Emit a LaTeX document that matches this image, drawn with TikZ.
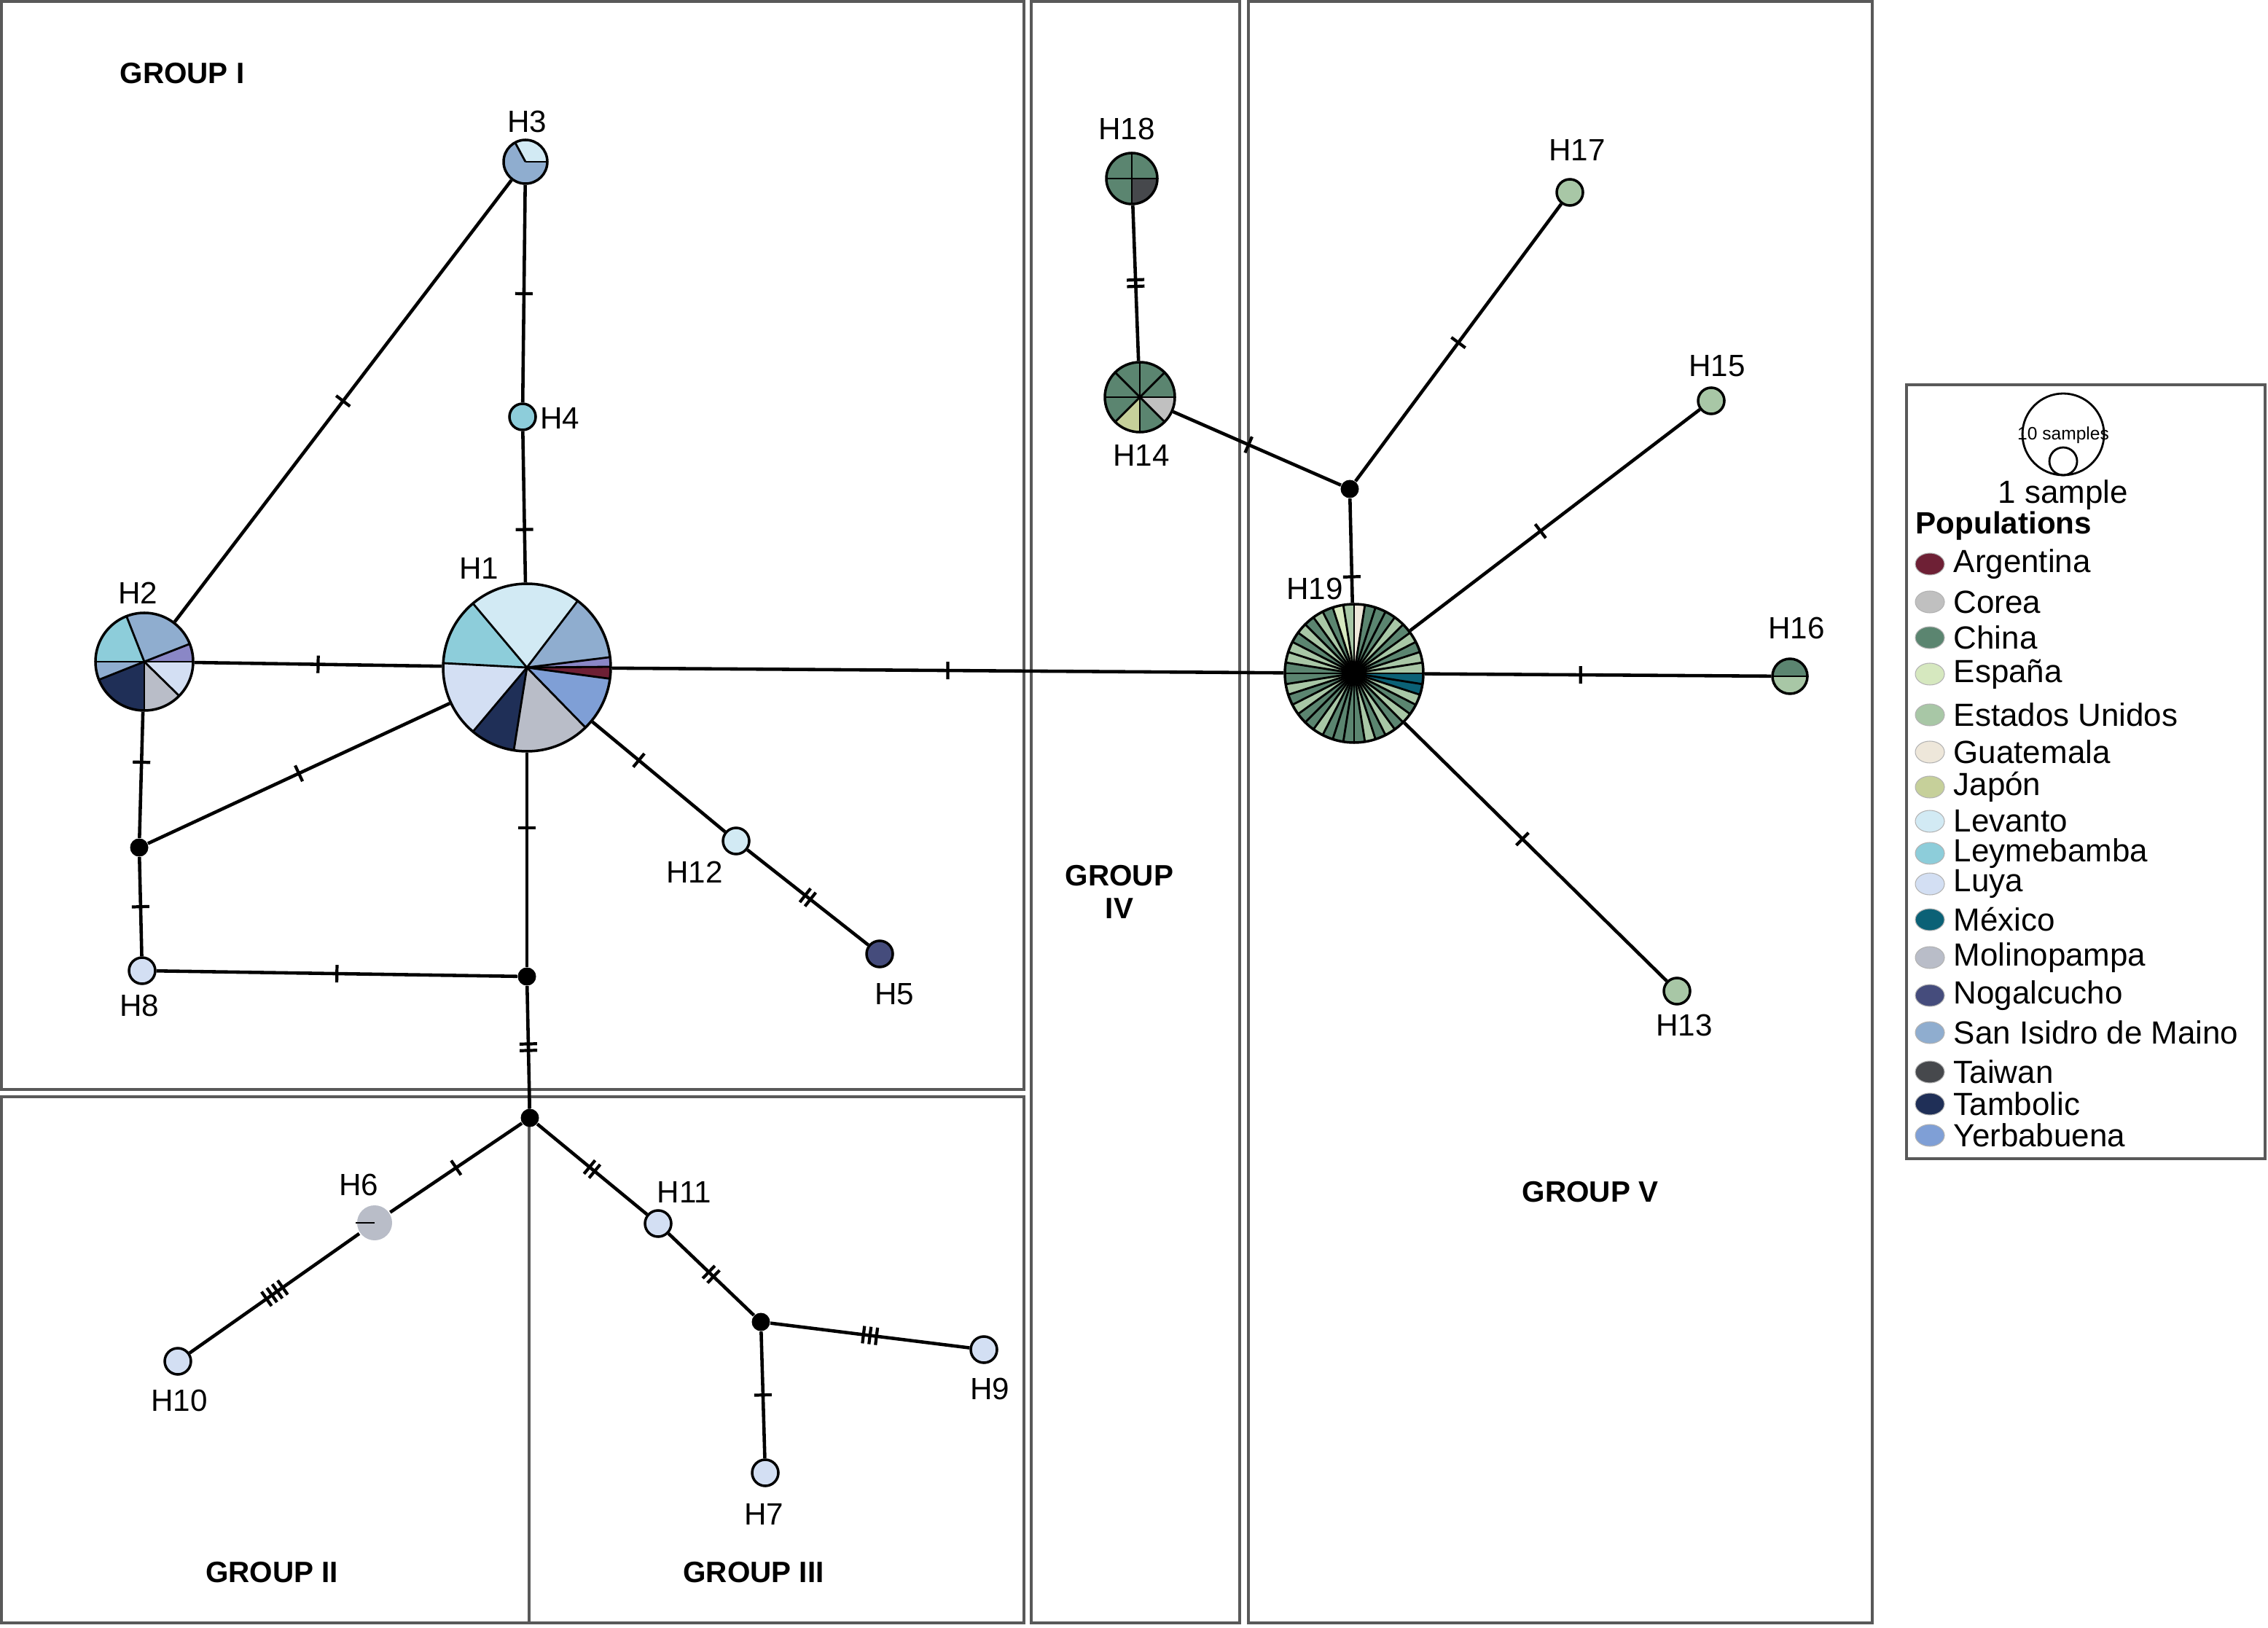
\documentclass[tikz,border=0pt]{standalone}
\usepackage{fontspec}
\setmainfont{Liberation Sans}
\usetikzlibrary{decorations.markings}

\definecolor{argentina}{HTML}{6E2035}
\definecolor{corea}{HTML}{C0C0C0}
\definecolor{china}{HTML}{5B8570}
\definecolor{espana}{HTML}{D6E8BF}
\definecolor{eeuu}{HTML}{A8C7A6}
\definecolor{guatemala}{HTML}{EEE7DA}
\definecolor{japon}{HTML}{C6D09A}
\definecolor{levanto}{HTML}{D2EAF4}
\definecolor{leyme}{HTML}{8DCDDA}
\definecolor{luya}{HTML}{D3DFF3}
\definecolor{mexico}{HTML}{0B6176}
\definecolor{molino}{HTML}{B9BDC8}
\definecolor{nogal}{HTML}{454C7C}
\definecolor{sanisidro}{HTML}{8FADCF}
\definecolor{taiwan}{HTML}{46484C}
\definecolor{tambolic}{HTML}{1F2F57}
\definecolor{yerba}{HTML}{7F9FD6}
\definecolor{lila}{HTML}{8A87C6}

\tikzset{
  hap/.style={circle,draw,line width=1pt,inner sep=0pt,minimum size=#1cm},
  med/.style={circle,fill=black,inner sep=0pt,minimum size=0.25cm},
  link/.style={line width=1.3pt},
  spoke/.style={line width=0.8pt},
  tk/.style={line width=1.2pt},
  box/.style={draw=black!65,line width=0.9pt},
  lbl/.style={font=\fontsize{12}{14}\selectfont},
  grp/.style={font=\bfseries\fontsize{11.5}{13}\selectfont,align=center},
  leg/.style={font=\fontsize{12.5}{14}\selectfont,anchor=west,inner sep=0pt},
  mut/.style={postaction={decorate,decoration={markings,mark=at position #1 with
    {\draw[tk] (0,-0.12) -- (0,0.12);}}}},
  mut/.default=0.5,
  mutii/.style={postaction={decorate,decoration={markings,mark=at position #1 with
    {\draw[tk] (-0.045,-0.12) -- (-0.045,0.12); \draw[tk] (0.045,-0.12) -- (0.045,0.12);}}}},
  mutii/.default=0.5,
  mutiii/.style={postaction={decorate,decoration={markings,mark=at position #1 with
    {\foreach \d in {-0.09,0,0.09} \draw[tk] (\d,-0.12) -- (\d,0.12);}}}},
  mutiii/.default=0.5,
  mutiv/.style={postaction={decorate,decoration={markings,mark=at position #1 with
    {\foreach \d in {-0.135,-0.045,0.045,0.135} \draw[tk] (\d,-0.12) -- (\d,0.12);}}}},
  mutiv/.default=0.5
}

% pie chart: centre, radius, start/end/colour list
\newcommand{\pie}[3]{%
  \foreach \a/\b/\c in {#3} {\fill[\c] (#1) -- ++(\a:#2) arc[start angle=\a,end angle=\b,radius=#2] -- cycle;}
  \foreach \a/\b/\c in {#3} {\draw[spoke] (#1) -- ++(\a:#2);}
}

\begin{document}
\begin{tikzpicture}
\useasboundingbox (0,0) rectangle (31.12,22.33);

% group boxes
\draw[box] (0.02,7.38) rectangle (14.05,22.31);
\draw[box] (0.02,0.06) rectangle (14.05,7.28);
\draw[box] (7.26,0.06) -- (7.26,7.28);
\draw[box] (14.15,0.06) rectangle (17.01,22.31);
\draw[box] (17.13,0.06) rectangle (25.69,22.31);

% pies
\pie{7.23,13.17}{1.15}{0.5/7.1/lila, 7.1/52.7/sanisidro, 52.7/130.1/levanto, 130.1/177/leyme,
  177/229.9/luya, 229.9/261/tambolic, 261/314.3/molino, 314.3/352.3/yerba, 352.3/360.5/argentina}
\pie{1.98,13.25}{0.67}{0/21.4/lila, 21.4/111.4/sanisidro, 111.4/180/leyme, 180/201.7/sanisidro,
  201.7/270/tambolic, 270/315.6/molino, 315.6/360/luya}
\pie{7.21,20.11}{0.30}{0/118.3/levanto, 118.3/360/sanisidro}
\pie{15.53,19.88}{0.35}{0/90/china, 90/180/china, 180/270/china, 270/360/taiwan}
\pie{15.64,16.88}{0.48}{0/45/china, 45/90/china, 90/135/china, 135/180/china,
  180/225/china, 225/270/japon, 270/315/china, 315/360/corea}
\pie{24.56,13.05}{0.24}{0/180/china, 180/360/eeuu}
\foreach \c [count=\k from 0] in {eeuu,eeuu,china,eeuu,china,eeuu,china,china,china,guatemala,
  eeuu,espana,china,eeuu,china,eeuu,china,eeuu,eeuu,china,
  china,eeuu,china,eeuu,china,china,eeuu,china,china,china,
  china,eeuu,china,eeuu,china,eeuu,china,eeuu,mexico,mexico}
  \fill[\c] (18.58,13.09) -- ++(9*\k:0.95) arc[start angle=9*\k,end angle=9*\k+9,radius=0.95] -- cycle;
\foreach \k in {0,...,39}
  \draw[spoke] (18.58,13.09) -- ++(9*\k:0.95);
\fill (18.58,13.09) circle (0.13);

% haplotypes
\node[hap=2.30] (H1) at (7.23,13.17) {};
\node[hap=1.34] (H2) at (1.98,13.25) {};
\node[hap=0.60] (H3) at (7.21,20.11) {};
\node[hap=0.36,fill=leyme] (H4) at (7.17,16.61) {};
\node[hap=0.36,fill=nogal] (H5) at (12.07,9.24) {};
\node[hap=0.48,draw=none,fill=molino] (H6) at (5.14,5.55) {};
\node[hap=0.36,fill=luya] (H7) at (10.50,2.12) {};
\node[hap=0.36,fill=luya] (H8) at (1.95,9.01) {};
\node[hap=0.36,fill=luya] (H9) at (13.50,3.81) {};
\node[hap=0.36,fill=luya] (H10) at (2.44,3.65) {};
\node[hap=0.36,fill=luya] (H11) at (9.03,5.54) {};
\node[hap=0.36,fill=levanto] (H12) at (10.10,10.79) {};
\node[hap=0.36,fill=eeuu] (H13) at (23.01,8.73) {};
\node[hap=0.96] (H14) at (15.64,16.88) {};
\node[hap=0.36,fill=eeuu] (H15) at (23.48,16.83) {};
\node[hap=0.48] (H16) at (24.56,13.05) {};
\node[hap=0.36,fill=eeuu] (H17) at (21.54,19.69) {};
\node[hap=0.70] (H18) at (15.53,19.88) {};
\node[hap=1.90] (H19) at (18.58,13.09) {};
\draw[line width=0.5pt] (H6.center) -- (H6.west);

% median vectors
\node[med] (m1) at (1.91,10.70) {};
\node[med] (m2) at (7.23,8.93) {};
\node[med] (m3) at (7.27,6.99) {};
\node[med] (m4) at (10.44,4.19) {};
\node[med] (m5) at (18.52,15.62) {};

% links
\draw[link,mut] (H3) -- (H2);
\draw[link,mut] (H3) -- (H4);
\draw[link,mut=0.65] (H4) -- (H1);
\draw[link,mut] (H2) -- (H1);
\draw[link,mut] (H1) -- (m1);
\draw[link,mut=0.4] (H2) -- (m1);
\draw[link,mut] (m1) -- (H8);
\draw[link,mut] (H8) -- (m2);
\draw[link,mut=0.35] (H1) -- (m2);
\draw[link,mutii] (m2) -- (m3);
\draw[link,mut=0.35] (H1) -- (H12);
\draw[link,mutii] (H12) -- (H5);
\draw[link,mut] (H1) -- (H19);
\draw[link,mut] (m3) -- (H6);
\draw[link,mutiv] (H6) -- (H10);
\draw[link,mutii] (m3) -- (H11);
\draw[link,mutii] (H11) -- (m4);
\draw[link,mutiii] (m4) -- (H9);
\draw[link,mut] (m4) -- (H7);
\draw[link,mutii] (H14) -- (H18);
\draw[link,mut=0.45] (H14) -- (m5);
\draw[link,mut] (m5) -- (H17);
\draw[link,mut=0.75] (m5) -- (H19);
\draw[link,mut=0.45] (H19) -- (H15);
\draw[link,mut=0.45] (H19) -- (H16);
\draw[link,mut=0.45] (H19) -- (H13);

% labels
\node[lbl] (lH1) at (6.57,14.53) {H1};
\node[lbl] (lH2) at (1.89,14.19) {H2};
\node[lbl] (lH3) at (7.23,20.66) {H3};
\node[lbl] (lH4) at (7.68,16.59) {H4};
\node[lbl] (lH5) at (12.27,8.69) {H5};
\node[lbl] (lH6) at (4.92,6.07) {H6};
\node[lbl] (lH7) at (10.48,1.55) {H7};
\node[lbl] (lH8) at (1.91,8.53) {H8};
\node[lbl] (lH9) at (13.58,3.27) {H9};
\node[lbl] (lH10) at (2.46,3.11) {H10};
\node[lbl] (lH11) at (9.39,5.97) {H11};
\node[lbl] (lH12) at (9.53,10.36) {H12};
\node[lbl] (lH13) at (23.11,8.26) {H13};
\node[lbl] (lH14) at (15.66,16.08) {H14};
\node[lbl] (lH15) at (23.56,17.31) {H15};
\node[lbl] (lH16) at (24.65,13.71) {H16};
\node[lbl] (lH17) at (21.64,20.27) {H17};
\node[lbl] (lH18) at (15.46,20.56) {H18};
\node[lbl] (lH19) at (18.04,14.25) {H19};

\node[grp] (gI) at (2.50,21.32) {GROUP I};
\node[grp] (gII) at (3.73,0.75) {GROUP II};
\node[grp] (gIII) at (10.34,0.75) {GROUP III};
\node[grp] (gIV) at (15.36,10.09) {GROUP\\IV};
\node[grp] (gV) at (21.82,5.97) {GROUP V};

% legend
\draw[box] (26.16,6.43) rectangle (31.08,17.05);
\draw[line width=0.8pt] (28.31,16.37) circle (0.56);
\draw[line width=0.8pt] (28.31,16.00) circle (0.19);
\node[font=\fontsize{7}{8}\selectfont,inner sep=0pt] (ten) at (28.31,16.36) {10 samples};
\node[font=\fontsize{12.5}{14}\selectfont,inner sep=0pt] (one) at (28.31,15.54) {1 sample};
\node[leg,font=\bfseries\fontsize{12}{14}\selectfont] (pop) at (26.28,15.11) {Populations};
\foreach \yy/\c/\t in {14.59/argentina/Argentina, 14.07/corea/Corea, 13.58/china/China,
  13.08/espana/España, 12.52/eeuu/Estados Unidos, 12.01/guatemala/Guatemala,
  11.53/japon/Japón, 11.06/levanto/Levanto, 10.62/leyme/Leymebamba, 10.20/luya/Luya,
  9.71/mexico/México, 9.19/molino/Molinopampa, 8.67/nogal/Nogalcucho,
  8.16/sanisidro/San Isidro de Maino, 7.62/taiwan/Taiwan, 7.18/tambolic/Tambolic,
  6.75/yerba/Yerbabuena}
{
  \fill[\c,draw=black!30,line width=0.3pt] (26.48,\yy) ellipse (0.2 and 0.15);
  \node[leg] (lg\c) at (26.80,\yy) {\t};
}
\end{tikzpicture}
\end{document}
